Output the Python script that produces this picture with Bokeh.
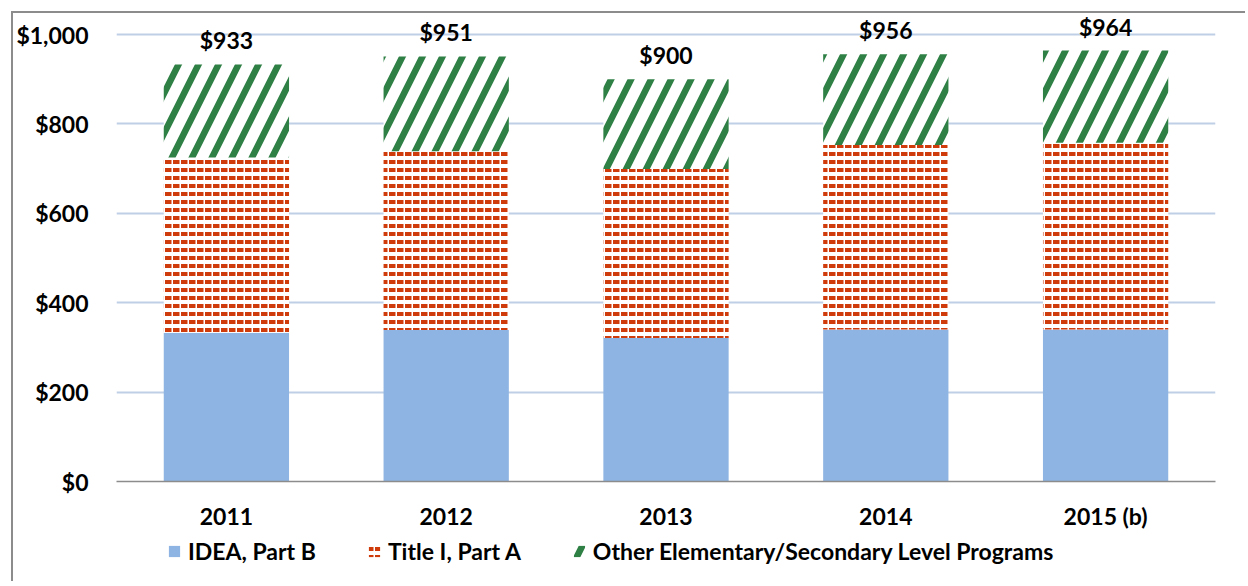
from bokeh.plotting import figure
from bokeh.layouts import column
from bokeh.core.properties import value
from bokeh.models import (ColumnDataSource, Range1d, FixedTicker, NumeralTickFormatter,
                          Legend, LegendItem, LabelSet)
from bokeh.embed import file_html
from bokeh.resources import INLINE

years = ["2011", "2012", "2013", "2014", "2015 (b)"]
idea = [333, 339, 321, 340, 340]
title1 = [392, 400, 378, 413, 418]
other = [208, 212, 201, 203, 206]
totals = [933, 951, 900, 956, 964]
series_names = ["IDEA, Part B", "Title I, Part A", "Other Elementary/Secondary Level Programs"]
y_ticks = [0, 200, 400, 600, 800, 1000]

BLUE = "#8EB4E3"
RED = "#D03B0C"
GREEN = "#2E8045"
FONT = "Lato"
FS = "23px"

t1 = [a + b for a, b in zip(idea, title1)]
t2 = [a + c for a, c in zip(t1, other)]
src = ColumnDataSource(dict(
    x=years, b0=[0] * len(years), t0=idea, t1=t1, t2=t2, total=totals,
    label=["${:,}".format(v) for v in totals]))

STYLE_IDEA = dict(fill_color=BLUE, line_color=None)
STYLE_T1 = dict(fill_color="white", line_color=None, hatch_pattern="horizontal_dash",
                hatch_color=RED, hatch_weight=4, hatch_scale=8)
STYLE_OTHER = dict(fill_color="white", line_color=None, hatch_pattern="right_diagonal_line",
                   hatch_color=GREEN, hatch_weight=6.5, hatch_scale=40)

p = figure(x_range=years, y_range=Range1d(0, 1047), width=1232, height=523,
           output_backend="svg", toolbar_location=None,
           min_border_left=102, min_border_right=30, min_border_top=0, min_border_bottom=55)
p.outline_line_color = None
p.x_range.range_padding = 0

W = 0.57
r1 = p.vbar(x="x", bottom="b0", top="t0", width=W, source=src, **STYLE_IDEA)
r2 = p.vbar(x="x", bottom="t0", top="t1", width=W, source=src, **STYLE_T1)
r3 = p.vbar(x="x", bottom="t1", top="t2", width=W, source=src, **STYLE_OTHER)

labels = LabelSet(x="x", y="total", text="label", source=src, y_offset=15,
                  text_align="center", text_baseline="alphabetic",
                  text_font=value(FONT), text_font_style="bold", text_font_size=FS,
                  text_color="black")
p.add_layout(labels)

p.yaxis.ticker = FixedTicker(ticks=y_ticks)
p.yaxis.formatter = NumeralTickFormatter(format="$0,0")
p.yaxis.axis_line_color = None
p.yaxis.major_tick_line_color = None
p.yaxis.minor_tick_line_color = None
p.yaxis.major_label_standoff = 22
p.yaxis.major_label_text_font = FONT
p.yaxis.major_label_text_font_style = "bold"
p.yaxis.major_label_text_font_size = FS
p.yaxis.major_label_text_color = "black"

p.xaxis.axis_line_color = "#8c8c8c"
p.xaxis.axis_line_width = 1.5
p.xaxis.major_tick_line_color = None
p.xaxis.minor_tick_line_color = None
p.xaxis.major_label_standoff = 14
p.xaxis.major_label_text_font = FONT
p.xaxis.major_label_text_font_style = "bold"
p.xaxis.major_label_text_font_size = FS
p.xaxis.major_label_text_color = "black"

p.xgrid.grid_line_color = None
p.ygrid.ticker = FixedTicker(ticks=y_ticks)
p.ygrid.grid_line_color = "#BFD0E6"
p.ygrid.grid_line_width = 2

# legend strip below the chart (swatch renderers sit outside its visible range)
lf = figure(width=1232, height=45, x_range=Range1d(0, 1), y_range=Range1d(0, 1),
            x_axis_type=None, y_axis_type=None, output_backend="svg", toolbar_location=None,
            min_border_left=0, min_border_right=0, min_border_top=0, min_border_bottom=0)
lf.outline_line_color = None
swatch_src = ColumnDataSource(dict(x=[-10], top=[-10]))
d1 = lf.vbar(x="x", top="top", width=0.1, source=swatch_src, **STYLE_IDEA)
d2 = lf.vbar(x="x", top="top", width=0.1, source=swatch_src, **STYLE_T1)
d3 = lf.vbar(x="x", top="top", width=0.1, source=swatch_src, **STYLE_OTHER)

legend = Legend(items=[LegendItem(label=series_names[0], renderers=[d1]),
                       LegendItem(label=series_names[1], renderers=[d2]),
                       LegendItem(label=series_names[2], renderers=[d3])],
                orientation="horizontal", location=(51, 16),
                glyph_width=14, glyph_height=14, label_standoff=7, spacing=51, label_height=28,
                label_text_font=FONT, label_text_font_style="bold", label_text_font_size=FS,
                label_text_color="black",
                border_line_color=None, background_fill_alpha=0, padding=0, margin=0)
lf.add_layout(legend, "center")

layout = column(p, lf, styles={"margin-left": "11px", "margin-top": "11px",
                               "border-left": "2px solid #8c8c8c",
                               "border-top": "2px solid #8c8c8c"})

open("out.html", "w").write(file_html(layout, INLINE))
